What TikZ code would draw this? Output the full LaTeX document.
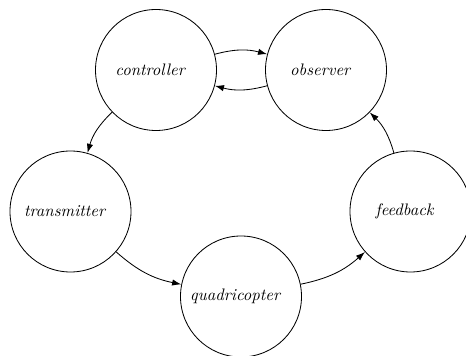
\documentclass[tikz,border=0pt]{standalone}
\usetikzlibrary{arrows.meta}

\begin{document}
\begin{tikzpicture}[x=0.6pt, y=-0.6pt, line width=0.5pt,
    state/.style={draw, circle, minimum size=72.6pt, inner sep=0pt, font=\itshape,
      execute at end node={\kern7pt}},
    flow/.style={-{Latex[length=5.5pt,width=3.8pt]}}]

  \useasboundingbox (0,0) rectangle (466,356);

  \node[state] (controller) at (156,70) {controller};
  \node[state] (observer) at (326,70) {observer};
  \node[state] (transmitter) at (70.5,211.5) {transmitter};
  \node[state] (quadricopter) at (241,296.5) {quadricopter};
  \node[state] (feedback) at (410.5,211.5) {feedback};

  \draw[flow] (controller) to[bend left=15] (observer);
  \draw[flow] (observer) to[bend left=15] (controller);
  \draw[flow] (controller) to[bend right=15] (transmitter);
  \draw[flow] (transmitter) to[bend right=15] (quadricopter);
  \draw[flow] (quadricopter) to[bend right=15] (feedback);
  \draw[flow] (feedback) to[bend right=15] (observer);

\end{tikzpicture}
\end{document}
